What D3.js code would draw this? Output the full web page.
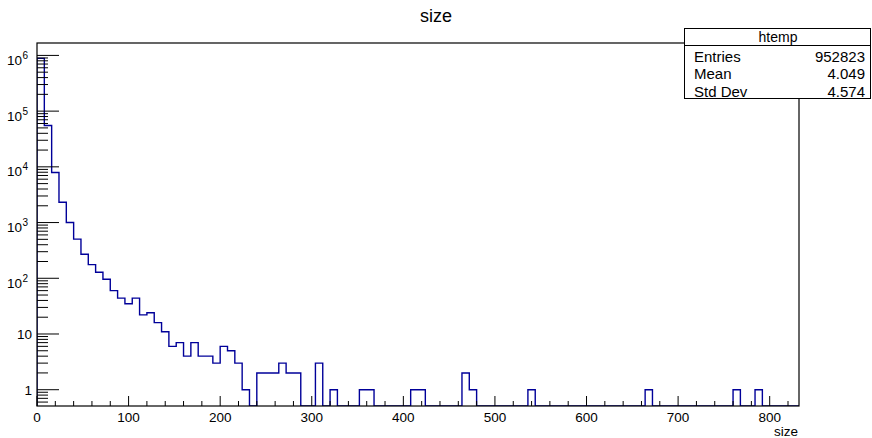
<!DOCTYPE html>
<html>
<head>
<meta charset="utf-8">
<script src="https://cdn.jsdelivr.net/npm/d3@7"></script>
<style>
  body { margin: 0; background: #fff; }
  text { font-family: "Liberation Sans", Arial, Helvetica, sans-serif; fill: #000; }
</style>
</head>
<body>
<svg width="872" height="438"></svg>
<script>
const WIDTH = 872
const HEIGHT = 438
const FRAME = { left: 37, right: 799, top: 43, bottom: 406 }

// histogram "size": 104 bins of width 8, from 0 to 832
const BIN_WIDTH = 8
const X_MIN = 0
const X_MAX = 832
const counts = [
  884892, 55200, 7900, 2320, 1000, 505, 270, 176, 128, 96,
  60, 44, 35, 44, 22, 24, 16, 11, 6, 7,
  4, 7, 4, 4, 3, 6, 5, 3, 1, 0,
  2, 2, 2, 3, 2, 2, 0, 0, 3, 0,
  1, 0, 0, 0, 1, 1, 0, 0, 0, 0,
  0, 1, 1, 0, 0, 0, 0, 0, 2, 1,
  0, 0, 0, 0, 0, 0, 0, 1, 0, 0,
  0, 0, 0, 0, 0, 0, 0, 0, 0, 0,
  0, 0, 0, 1, 0, 0, 0, 0, 0, 0,
  0, 0, 0, 0, 0, 1, 0, 0, 1, 0,
  0, 0, 0, 0
]

const xMajorTicks = [0, 100, 200, 300, 400, 500, 600, 700, 800]
const xMinorStep = 20
const yDecades = [1, 10, 100, 1000, 10000, 100000, 1000000]
const yDecadeLabels = [["1", ""], ["10", ""], ["10", "2"], ["10", "3"], ["10", "4"], ["10", "5"], ["10", "6"]]

const statNames = ["Entries", "Mean", "Std Dev"]
const statValues = ["952823", "4.049", "4.574"]

const svg = d3.select("svg")
svg.append("rect").attr("width", WIDTH).attr("height", HEIGHT).attr("fill", "#fff")

const x = d3.scaleLinear().domain([X_MIN, X_MAX]).range([FRAME.left, FRAME.right])
const y = d3.scaleLog().domain([0.51, 1.67e6]).range([FRAME.bottom, FRAME.top])

function yOf(v) {
    return v > 0 ? y(v) : FRAME.bottom
}

// title
svg.append("text")
    .attr("x", 436).attr("y", 22)
    .attr("text-anchor", "middle")
    .style("font-size", "18px")
    .text("size")

// histogram outline as steps
let pts = [[x(X_MIN), FRAME.bottom]]
counts.forEach(function(c, i) {
    pts.push([x(i * BIN_WIDTH), yOf(c)])
    pts.push([x((i + 1) * BIN_WIDTH), yOf(c)])
})
pts.push([x(X_MAX), FRAME.bottom])

svg.append("clipPath").attr("id", "frameclip")
    .append("rect")
    .attr("x", FRAME.left).attr("y", FRAME.top)
    .attr("width", FRAME.right - FRAME.left)
    .attr("height", FRAME.bottom - FRAME.top)

svg.append("path")
    .attr("clip-path", "url(#frameclip)")
    .attr("d", d3.line()(pts))
    .attr("fill", "none")
    .attr("stroke", "#000099")
    .attr("stroke-width", 1.4)

// frame
svg.append("rect")
    .attr("x", FRAME.left).attr("y", FRAME.top)
    .attr("width", FRAME.right - FRAME.left)
    .attr("height", FRAME.bottom - FRAME.top)
    .attr("fill", "none")
    .attr("stroke", "#000")
    .attr("stroke-width", 1.2)

// x axis ticks
const xMinor = d3.range(X_MIN, X_MAX + 0.001, xMinorStep).filter(v => v % 100 !== 0)
const gx = svg.append("g")
gx.selectAll("line.minor").data(xMinor).enter().append("line")
    .attr("x1", d => x(d)).attr("x2", d => x(d))
    .attr("y1", FRAME.bottom).attr("y2", FRAME.bottom - 5)
    .attr("stroke", "#000")
gx.selectAll("line.major").data(xMajorTicks).enter().append("line")
    .attr("x1", d => x(d)).attr("x2", d => x(d))
    .attr("y1", FRAME.bottom).attr("y2", FRAME.bottom - 10)
    .attr("stroke", "#000")
gx.selectAll("text").data(xMajorTicks).enter().append("text")
    .attr("x", d => x(d)).attr("y", 421.5)
    .attr("text-anchor", "middle")
    .style("font-size", "13.5px")
    .text(d => d)

svg.append("text")
    .attr("x", 798).attr("y", 436)
    .attr("text-anchor", "end")
    .style("font-size", "13.5px")
    .text("size")

// y axis ticks (log)
let yMinor = []
yDecades.forEach(function(d) {
    for (let k = 2; k <= 9; k++) yMinor.push(d * k)
})
yMinor.push(0.6, 0.7, 0.8, 0.9)
yMinor = yMinor.filter(v => v > 0.51 && v < 1.67e6)

const gy = svg.append("g")
gy.selectAll("line.minor").data(yMinor).enter().append("line")
    .attr("x1", FRAME.left).attr("x2", FRAME.left + 11)
    .attr("y1", d => y(d)).attr("y2", d => y(d))
    .attr("stroke", "#000")
gy.selectAll("line.major").data(yDecades).enter().append("line")
    .attr("x1", FRAME.left).attr("x2", FRAME.left + 22)
    .attr("y1", d => y(d)).attr("y2", d => y(d))
    .attr("stroke", "#000")

yDecades.forEach(function(d, i) {
    let lab = yDecadeLabels[i]
    if (lab[1] === "") {
        gy.append("text")
            .attr("x", 32).attr("y", y(d) + 5)
            .attr("text-anchor", "end")
            .style("font-size", "13.5px")
            .text(lab[0])
    } else {
        gy.append("text")
            .attr("x", 22).attr("y", y(d) + 9.5)
            .attr("text-anchor", "end")
            .style("font-size", "13.5px")
            .text(lab[0])
        gy.append("text")
            .attr("x", 22.5).attr("y", y(d) + 3.5)
            .style("font-size", "10px")
            .text(lab[1])
    }
})

// stats box
const sb = svg.append("g")
sb.append("rect")
    .attr("x", 684.5).attr("y", 28.5)
    .attr("width", 186).attr("height", 70)
    .attr("fill", "#fff").attr("stroke", "#000")
sb.append("line")
    .attr("x1", 684.5).attr("x2", 870.5)
    .attr("y1", 45.5).attr("y2", 45.5)
    .attr("stroke", "#000")
sb.append("text")
    .attr("x", 778).attr("y", 41.5)
    .attr("text-anchor", "middle")
    .style("font-size", "14px")
    .text("htemp")
statNames.forEach(function(n, i) {
    sb.append("text")
        .attr("x", 694).attr("y", 61.7 + i * 17.5)
        .style("font-size", "15px")
        .text(n)
    sb.append("text")
        .attr("x", 865).attr("y", 61.7 + i * 17.5)
        .attr("text-anchor", "end")
        .style("font-size", "15px")
        .text(statValues[i])
})
</script>
</body>
</html>
